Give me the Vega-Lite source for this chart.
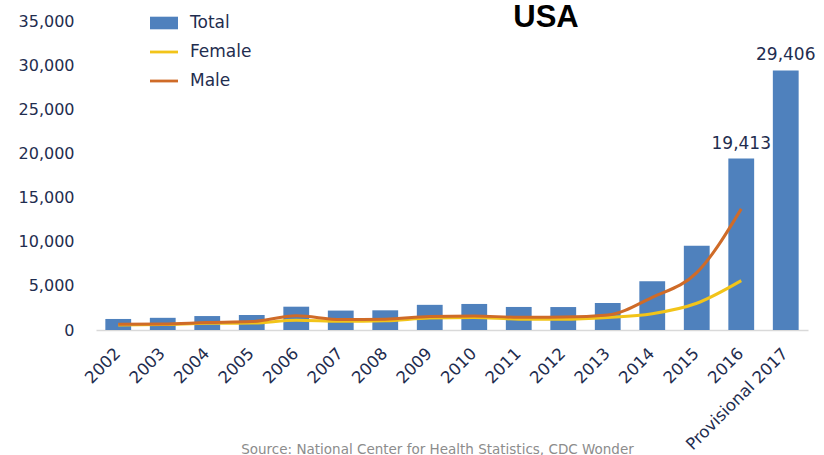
{
  "$schema": "https://vega.github.io/schema/vega-lite/v6.json",
  "width": 712,
  "height": 309,
  "autosize": {"type": "none"},
  "padding": {"left": 96, "top": 21, "right": 16, "bottom": 125},
  "background": "white",
  "title": {
    "text": "USA",
    "font": "Liberation Sans",
    "fontSize": 31,
    "fontWeight": "bold",
    "color": "#000000",
    "anchor": "middle",
    "dx": 94,
    "offset": 0,
    "baseline": "alphabetic",
    "dy": 49
  },
  "config": {
    "view": {"stroke": null},
    "font": "DejaVu Sans"
  },
  "data": {
    "values": [
      {"year": "2002", "series": "Total", "value": 1250},
      {"year": "2003", "series": "Total", "value": 1380},
      {"year": "2004", "series": "Total", "value": 1580},
      {"year": "2005", "series": "Total", "value": 1700},
      {"year": "2006", "series": "Total", "value": 2640},
      {"year": "2007", "series": "Total", "value": 2200},
      {"year": "2008", "series": "Total", "value": 2230},
      {"year": "2009", "series": "Total", "value": 2850},
      {"year": "2010", "series": "Total", "value": 2950},
      {"year": "2011", "series": "Total", "value": 2610},
      {"year": "2012", "series": "Total", "value": 2600},
      {"year": "2013", "series": "Total", "value": 3060},
      {"year": "2014", "series": "Total", "value": 5510},
      {"year": "2015", "series": "Total", "value": 9550},
      {"year": "2016", "series": "Total", "value": 19413},
      {"year": "Provisional 2017", "series": "Total", "value": 29406},
      {"year": "2002", "series": "Female", "value": 580},
      {"year": "2003", "series": "Female", "value": 620},
      {"year": "2004", "series": "Female", "value": 760},
      {"year": "2005", "series": "Female", "value": 790},
      {"year": "2006", "series": "Female", "value": 1100},
      {"year": "2007", "series": "Female", "value": 980},
      {"year": "2008", "series": "Female", "value": 1050},
      {"year": "2009", "series": "Female", "value": 1350},
      {"year": "2010", "series": "Female", "value": 1420},
      {"year": "2011", "series": "Female", "value": 1230},
      {"year": "2012", "series": "Female", "value": 1220},
      {"year": "2013", "series": "Female", "value": 1420},
      {"year": "2014", "series": "Female", "value": 1850},
      {"year": "2015", "series": "Female", "value": 3030},
      {"year": "2016", "series": "Female", "value": 5590},
      {"year": "2002", "series": "Male", "value": 650},
      {"year": "2003", "series": "Male", "value": 690},
      {"year": "2004", "series": "Male", "value": 840},
      {"year": "2005", "series": "Male", "value": 950},
      {"year": "2006", "series": "Male", "value": 1620},
      {"year": "2007", "series": "Male", "value": 1180},
      {"year": "2008", "series": "Male", "value": 1230},
      {"year": "2009", "series": "Male", "value": 1520},
      {"year": "2010", "series": "Male", "value": 1590},
      {"year": "2011", "series": "Male", "value": 1440},
      {"year": "2012", "series": "Male", "value": 1460},
      {"year": "2013", "series": "Male", "value": 1690},
      {"year": "2014", "series": "Male", "value": 3700},
      {"year": "2015", "series": "Male", "value": 6500},
      {"year": "2016", "series": "Male", "value": 13720}
    ]
  },
  "encoding": {
    "x": {
      "field": "year",
      "type": "nominal",
      "sort": null,
      "scale": {"paddingInner": 0.42, "paddingOuter": 0.21},
      "axis": {
        "title": "Source: National Center for Health Statistics, CDC Wonder",
        "titleFont": "DejaVu Sans",
        "titleFontSize": 13.5,
        "titleFontWeight": "normal",
        "titleColor": "#8C8C8C",
        "titleX": 341,
        "titleY": 123,
        "titleAnchor": "middle",
        "titleAlign": "center",
        "titleBaseline": "alphabetic",
        "labelAngle": -45,
        "labelFont": "DejaVu Sans",
        "labelFontSize": 16.5,
        "labelColor": "#1F2D4F",
        "labelPadding": 15,
        "labelOffset": -6,
        "ticks": false,
        "tickSize": 0,
        "domain": true,
        "domainColor": "#D9D9D9",
        "domainWidth": 1.5,
        "grid": false
      }
    },
    "y": {
      "field": "value",
      "type": "quantitative",
      "scale": {"domain": [0, 35000], "nice": false},
      "axis": {
        "title": null,
        "values": [0, 5000, 10000, 15000, 20000, 25000, 30000, 35000],
        "format": ",.0f",
        "labelFont": "DejaVu Sans",
        "labelFontSize": 16,
        "labelColor": "#1F2D4F",
        "labelPadding": 22,
        "ticks": false,
        "tickSize": 0,
        "domain": false,
        "grid": false
      }
    },
    "color": {
      "field": "series",
      "type": "nominal",
      "scale": {"domain": ["Total", "Female", "Male"], "range": ["#4F81BD", "#F2C419", "#CF6B28"]},
      "legend": {
        "title": null,
        "orient": "none",
        "legendX": 54,
        "legendY": -12,
        "direction": "vertical",
        "symbolSize": 784,
        "rowPadding": 7,
        "labelOffset": 12,
        "labelFont": "DejaVu Sans",
        "labelFontSize": 17,
        "labelColor": "#1F2D4F",
        "padding": 0,
        "encode": {
          "symbols": {
            "update": {
              "shape": {"signal": "datum.value === 'Total' ? 'M-1,-0.45H1V0.45H-1Z' : 'M-1,-0.1H1V0.1H-1Z'"},
              "fill": {"scale": "color", "field": "value"},
              "stroke": {"value": "transparent"},
              "strokeWidth": {"value": 0},
              "opacity": {"value": 1},
              "fillOpacity": {"value": 1}
            }
          }
        }
      }
    }
  },
  "layer": [
    {
      "transform": [{"filter": "datum.series === 'Total'"}],
      "mark": {"type": "bar"}
    },
    {
      "transform": [{"filter": "datum.series !== 'Total'"}],
      "mark": {"type": "line", "interpolate": "monotone", "strokeWidth": 3}
    },
    {
      "transform": [
        {"filter": "datum.series === 'Total' && (datum.year === '2016' || datum.year === 'Provisional 2017')"}
      ],
      "mark": {"type": "text", "baseline": "alphabetic", "align": "center", "dy": -10, "font": "DejaVu Sans", "fontSize": 17, "color": "#1F2D4F"},
      "encoding": {
        "text": {"field": "value", "type": "quantitative", "format": ","},
        "color": {"value": "#1F2D4F"}
      }
    }
  ]
}
